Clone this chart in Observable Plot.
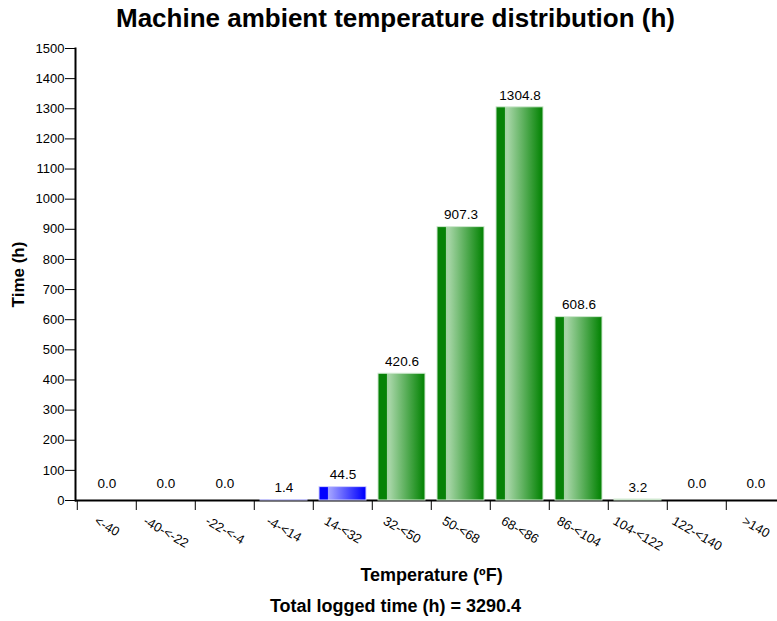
<!DOCTYPE html>
<html><head><meta charset="utf-8">
<script src="https://cdn.jsdelivr.net/npm/d3@7"></script>
<script src="https://cdn.jsdelivr.net/npm/@observablehq/plot@0.6"></script>
<style>
body{margin:0;background:#fff;font-family:"Liberation Sans",Arial,sans-serif;color:#000;}
#title{height:40px;line-height:36px;text-align:center;font-weight:bold;font-size:26px;padding-left:14px;white-space:nowrap;}
#chart svg{display:block;}
#caption{height:26px;line-height:22px;text-align:center;font-weight:bold;font-size:18px;padding-left:14px;}
</style></head><body>
<div id="title">Machine ambient temperature distribution (h)</div>
<div id="chart"></div>
<div id="caption"></div>
<script>
const categories = ["<-40","-40-<-22","-22-<-4","-4-<14","14-<32","32-<50","50-<68","68-<86","86-<104","104-<122","122-<140",">140"];
const hours = [0, 0, 0, 1.4, 44.5, 420.6, 907.3, 1304.8, 608.6, 3.2, 0, 0];
const coldCategories = ["<-40","-40-<-22","-22-<-4","-4-<14","14-<32"];
const yTicks = [0,100,200,300,400,500,600,700,800,900,1000,1100,1200,1300,1400,1500];
const xTitle = "Temperature (ºF)";
const yTitle = "Time (h)";

const data = categories.map((c, i) => ({cat: c, h: hours[i], cold: coldCategories.includes(c)}));
const total = d3.sum(hours);
document.getElementById("caption").textContent = "Total logged time (h) = " + total.toFixed(1);

const W = 777, H = 555, mL = 75, mR = 0, mT = 8, mB = 95;
const xRange = [mL, 788];
const step = (xRange[1] - xRange[0]) / categories.length;
const font = "Liberation Sans, Arial, sans-serif";

// rotated tick labels hang from a common top line; offset each by its rotated half-height
const ctx = document.createElement("canvas").getContext("2d");
ctx.font = "13px 'Liberation Sans', Arial, sans-serif";
const labelTop = 15, angle = 30 * Math.PI / 180, glyphH = 10;
const tickLabelMarks = data.map(d => {
  const w = ctx.measureText(d.cat).width;
  const dy = labelTop + (w * Math.sin(angle) + glyphH * Math.cos(angle)) / 2;
  return Plot.text([d], {x: "cat", text: "cat", frameAnchor: "bottom", dy, rotate: 30, textAnchor: "middle", lineAnchor: "middle", fontSize: 13, fill: "#000"});
});

const svg = Plot.plot({
  width: W, height: H,
  marginLeft: mL, marginRight: mR, marginTop: mT, marginBottom: mB,
  style: {fontFamily: font, fontSize: "13px", color: "#000", background: "#fff"},
  x: {domain: categories, range: xRange, paddingInner: 0.2, paddingOuter: 0.1, axis: null},
  y: {domain: [0, 1500], axis: null},
  marks: [
    Plot.ruleY([0], {stroke: "#000", strokeWidth: 2}),
    Plot.frame({anchor: "left", stroke: "#000", strokeWidth: 2}),
    Plot.axisY({ticks: yTicks, tickSize: 10, tickPadding: 1, tickFormat: d => String(d), fontSize: 13, label: null, stroke: "#000"}),
    Plot.axisX({tickSize: 10, tickFormat: () => "", label: null, dx: -step / 2, stroke: "#000"}),
    Plot.barY(data.filter(d => !d.cold), {x: "cat", y: "h", fill: "url(#gradGreen)", stroke: "#cfe8cf", strokeWidth: 1}),
    Plot.barY(data.filter(d => d.cold), {x: "cat", y: "h", fill: "url(#gradBlue)", stroke: "#d0d0ff", strokeWidth: 1}),
    Plot.text(data.filter(d => d.h > 0), {x: "cat", y: "h", text: d => d.h.toFixed(1), dy: -12, fontSize: 13.5, fill: "#000"}),
    Plot.text(data.filter(d => d.h === 0), {x: "cat", y: "h", text: d => d.h.toFixed(1), dy: -17, fontSize: 13.5, fill: "#000"}),
    ...tickLabelMarks,
    Plot.text([xTitle], {text: d => d, frameAnchor: "bottom", dy: 75, dx: 5, textAnchor: "middle", lineAnchor: "middle", fontWeight: "bold", fontSize: 18, fill: "#000"}),
    Plot.text([yTitle], {text: d => d, frameAnchor: "left", dx: -57, rotate: -90, textAnchor: "middle", lineAnchor: "middle", fontWeight: "bold", fontSize: 17, fill: "#000"})
  ]
});

const defs = d3.select(svg).insert("defs", ":first-child");
function grad(id, stops) {
  const g = defs.append("linearGradient").attr("id", id).attr("x1", 0).attr("x2", 1).attr("y1", 0).attr("y2", 0);
  stops.forEach(([o, c]) => g.append("stop").attr("offset", o).attr("stop-color", c));
}
grad("gradGreen", [[0, "#078207"], [0.18, "#078207"], [0.19, "#a3d3a3"], [0.25, "#a6d5a6"], [0.95, "#0b870b"], [1, "#078207"]]);
grad("gradBlue", [[0, "#0000ff"], [0.18, "#0000ff"], [0.19, "#a0a0ff"], [0.25, "#9c9cff"], [0.95, "#0505ff"], [1, "#0000ff"]]);

document.getElementById("chart").appendChild(svg);
</script>
</body></html>
